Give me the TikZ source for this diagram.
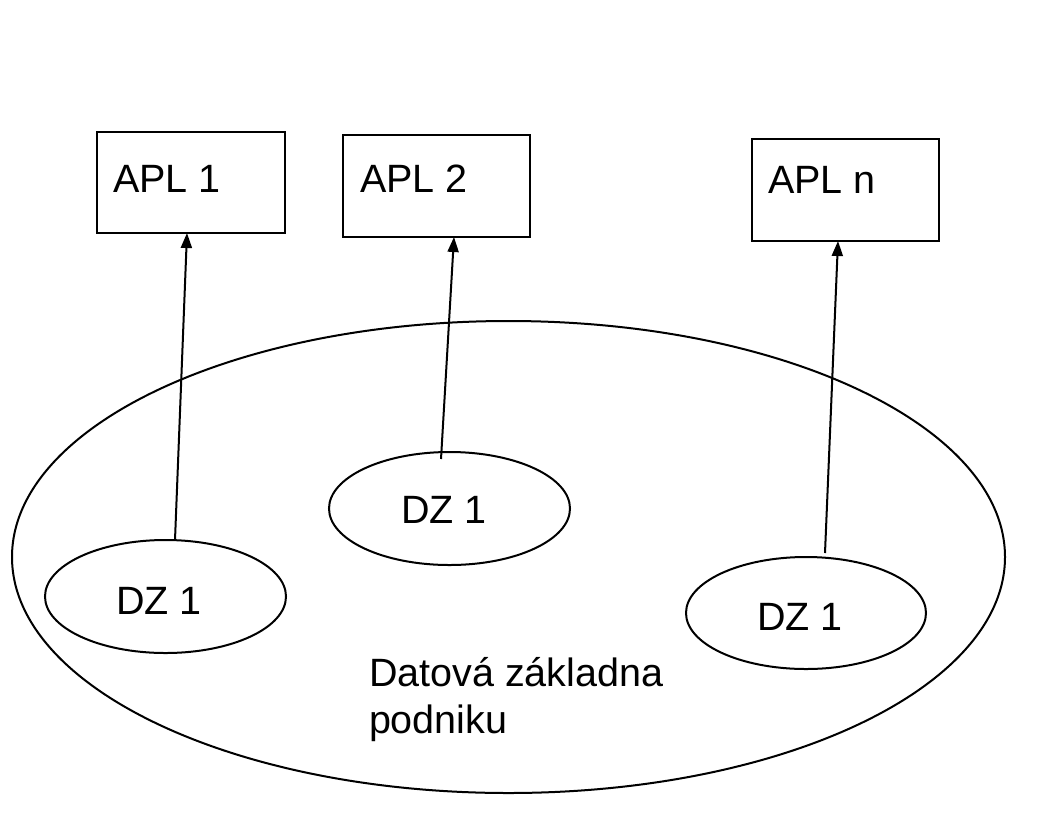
\documentclass[tikz,border=0pt]{standalone}
\usepackage{fontspec}
\setmainfont{Liberation Sans}
\usetikzlibrary{arrows.meta,shapes.geometric}
\begin{document}
\begin{tikzpicture}[x=1pt,y=-1pt,line width=2pt,
  box/.style={draw,rectangle,inner sep=0pt},
  dz/.style={draw,ellipse,inner sep=0pt},
  lbl/.style={anchor=base west,inner sep=0pt,font=\fontsize{39.5}{47}\selectfont},
  arr/.style={-{Triangle[length=15pt,width=11pt]}}]
\useasboundingbox (0,0) rectangle (1055,815);
% big ellipse
\node[dz,minimum width=993pt,minimum height=472pt] (db) at (508.5,557) {};
% application boxes
\node[box,minimum width=188pt,minimum height=101pt] (a1) at (191,182.5) {};
\node[box,minimum width=187pt,minimum height=102pt] (a2) at (436.5,186) {};
\node[box,minimum width=187pt,minimum height=102pt] (an) at (845.5,190) {};
\node[lbl] (ta1) at (112,192) {APL 1};
\node[lbl] (ta2) at (359,192) {APL 2};
\node[lbl] (tan) at (767,193) {APL n};
% data zones
\node[dz,minimum width=241pt,minimum height=113pt] (d1) at (165.5,596.5) {};
\node[dz,minimum width=241pt,minimum height=113pt] (d2) at (449.5,508.5) {};
\node[dz,minimum width=240pt,minimum height=112pt] (dn) at (806,613) {};
\node[lbl] (td1) at (115,614) {DZ 1};
\node[lbl] (td2) at (400,523) {DZ 1};
\node[lbl] (tdn) at (756,630) {DZ 1};
% db label
\node[lbl,align=left,anchor=north west] (tdb) at (368,656) {Datová základna\\podniku};
% arrows
\coordinate (s1) at (175,540);
\coordinate (e1) at (187,233);
\coordinate (s2) at (441,459);
\coordinate (e2) at (454,237);
\coordinate (sn) at (825,553);
\coordinate (en) at (838,241);
\draw[arr] (s1) -- (e1);
\draw[arr] (s2) -- (e2);
\draw[arr] (sn) -- (en);
\end{tikzpicture}
\end{document}
